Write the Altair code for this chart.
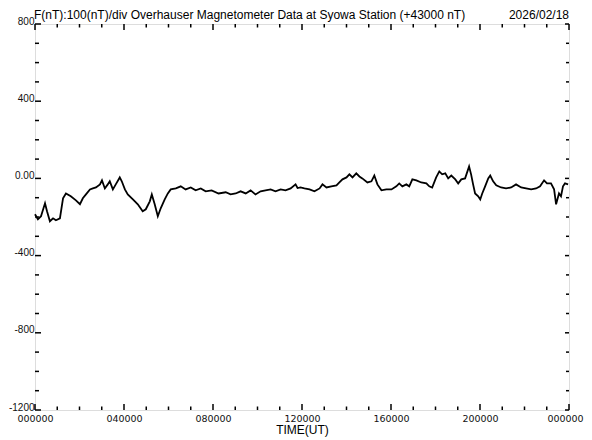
import altair as alt
import pandas as pd

# ---- data (time in hours UT, field in nT relative to 43000 nT)
hours = [0.00, 0.13, 0.27, 0.45, 0.54, 0.67, 0.81, 0.94, 1.12, 1.26, 1.39, 1.61, 1.84, 2.02,
         2.15, 2.29, 2.47, 2.60, 2.74, 2.92, 3.01, 3.14, 3.27, 3.36, 3.50, 3.63, 3.81, 3.90,
         4.04, 4.17, 4.40, 4.62, 4.84, 4.98, 5.16, 5.25, 5.38, 5.52, 5.65, 5.83, 5.97, 6.10,
         6.33, 6.55, 6.77, 7.00, 7.22, 7.45, 7.67, 7.94, 8.25, 8.57, 8.79, 9.02, 9.24, 9.47,
         9.69, 9.91, 10.14, 10.36, 10.59, 10.81, 11.04, 11.26, 11.49, 11.71, 11.80, 11.93,
         12.11, 12.34, 12.56, 12.79, 12.92, 13.10, 13.32, 13.55, 13.68, 13.82, 14.00, 14.13,
         14.27, 14.44, 14.58, 14.71, 14.94, 15.12, 15.25, 15.39, 15.57, 15.79, 16.02, 16.24,
         16.37, 16.51, 16.69, 16.82, 16.96, 17.14, 17.36, 17.59, 17.72, 17.85, 18.03, 18.17,
         18.30, 18.44, 18.57, 18.71, 18.89, 19.02, 19.16, 19.33, 19.51, 19.60, 19.69, 19.78,
         19.92, 20.01, 20.10, 20.23, 20.37, 20.46, 20.59, 20.73, 20.95, 21.17, 21.40, 21.62,
         21.85, 22.07, 22.30, 22.52, 22.70, 22.88, 23.01, 23.19, 23.33, 23.42, 23.55, 23.64,
         23.73, 23.82, 23.96]
values = [-186, -212, -196, -129, -170, -222, -207, -217, -207, -103, -78, -93, -114, -134,
          -103, -83, -57, -52, -47, -31, -10, -52, -31, -15, -57, -31, 5, -15,
          -57, -83, -109, -134, -170, -160, -119, -83, -134, -196, -155, -109, -78, -57,
          -52, -41, -57, -47, -62, -52, -67, -62, -78, -72, -83, -78, -67, -78,
          -62, -83, -67, -62, -57, -67, -57, -62, -52, -31, -50, -47,
          -52, -57, -67, -52, -31, -47, -41, -36, -21, -5, 5, 21,
          5, 26, 10, 0, -21, -15, 15, -31, -62, -57, -57, -41,
          -26, -41, -31, -41, -5, -10, -21, -26, -41, -47, 5, 36,
          21, 26, 0, 15, -5, -26, -5, 0, 62, 21, -31, -78,
          -93, -109, -78, -41, 0, 15, -15, -36, -47, -52, -47, -31,
          -47, -52, -57, -52, -41, -10, -26, -26, -57, -134, -78, -93,
          -41, -26, -31]

x_label_hours = [0, 4, 8, 12, 16, 20, 24]
x_label_text = ["000000", "040000", "080000", "120000", "160000", "200000", "000000"]
x_tick_hours = list(range(0, 25))
y_label_values = [-1200, -800, -400, 0, 400, 800]
y_label_text = ["-1200", "-800", "-400", "0.00", "400", "800"]
y_tick_values = list(range(-1200, 801, 100))

title_left = "F(nT):100(nT)/div  Overhauser Magnetometer Data at Syowa Station (+43000 nT)"
title_right = "2026/02/18"
x_axis_title = "TIME(UT)"

W, H = 534, 386
FONT = "Liberation Sans"
LFONT = "DejaVu Sans"

df = pd.DataFrame({"h": hours, "v": values})
xt = pd.DataFrame({"h": x_tick_hours, "major": [h % 4 == 0 for h in x_tick_hours]})
yt = pd.DataFrame({"v": y_tick_values, "major": [v % 400 == 0 for v in y_tick_values]})

xscale = alt.Scale(domain=[0, 24], nice=False, zero=False)
yscale = alt.Scale(domain=[-1200, 800], nice=False, zero=False)

xlab_arr = "[" + ",".join("'%s'" % s for s in x_label_text) + "]"
ylab_arr = "[" + ",".join("'%s'" % s for s in y_label_text) + "]"

xaxis = alt.Axis(
    values=x_label_hours, labelExpr=xlab_arr + "[round(datum.value/4)]",
    title=x_axis_title, titleFont=FONT, titleFontSize=12, titleFontWeight="normal",
    titleColor="black", titlePadding=2,
    labelFont=LFONT, labelFontSize=9.5, labelColor="#111", labelPadding=3,
    labelOffset={"condition": {"test": "datum.value >= 24", "value": -4}, "value": 0},
    tickSize=0, domain=False, grid=False, labelFlush=False, labelOverlap=False)
yaxis = alt.Axis(
    values=y_label_values, labelExpr=ylab_arr + "[round((datum.value+1200)/400)]",
    title=None, labelFont=FONT, labelFontSize=10, labelColor="#111", labelPadding=1,
    labelBaseline="alphabetic", tickSize=0, domain=False, grid=False,
    labelFlush=False, labelOverlap=False)

line = alt.Chart(df).mark_line(color="black", strokeWidth=1.8).encode(
    x=alt.X("h:Q", scale=xscale, axis=xaxis),
    y=alt.Y("v:Q", scale=yscale, axis=yaxis),
)

def xticks(major, y0, y1):
    return alt.Chart(xt).transform_filter(
        "datum.major" if major else "!datum.major").mark_rule(color="black", strokeWidth=1.5).encode(
        x=alt.X("h:Q", scale=xscale, axis=xaxis), y=alt.value(y0), y2=alt.value(y1))

def yticks(major, x0, x1):
    return alt.Chart(yt).transform_filter(
        "datum.major" if major else "!datum.major").mark_rule(color="black", strokeWidth=1.5).encode(
        y=alt.Y("v:Q", scale=yscale, axis=yaxis), x=alt.value(x0), x2=alt.value(x1))

ticks = [
    xticks(True, H, H - 6), xticks(False, H, H - 3.5),
    xticks(True, 0, 6), xticks(False, 0, 3.5),
    yticks(True, 0, 6), yticks(False, 0, 4),
    yticks(True, W, W - 4), yticks(False, W, W - 3),
]

tdf = pd.DataFrame({"t": [title_left]})
ddf = pd.DataFrame({"t": [title_right]})
t1 = alt.Chart(tdf).mark_text(align="left", baseline="alphabetic", font=FONT, fontSize=12,
                              color="black").encode(text="t:N", x=alt.value(-1), y=alt.value(-5))
t2 = alt.Chart(ddf).mark_text(align="right", baseline="alphabetic", font=FONT, fontSize=12,
                              color="black").encode(text="t:N", x=alt.value(W), y=alt.value(-5))

chart = alt.layer(line, *ticks, t1, t2).properties(
    width=W, height=H,
    autosize=alt.AutoSizeParams(type="none"),
    padding={"left": 27, "top": 16, "right": 15, "bottom": 30},
).configure_view(stroke="black", strokeWidth=2).configure(background="white")

chart.save("out.html", embed_options={"renderer": "svg", "actions": False})
